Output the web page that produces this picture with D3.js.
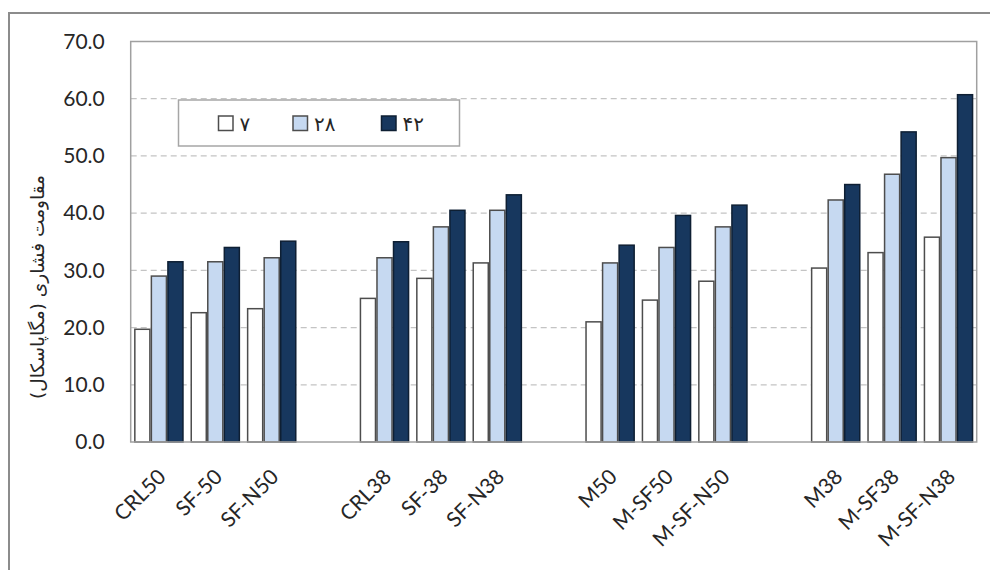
<!DOCTYPE html>
<html>
<head>
<meta charset="utf-8">
<script src="https://cdn.jsdelivr.net/npm/d3@7"></script>
<style>
  html, body { margin: 0; padding: 0; background: #fff; }
  svg { display: block; }
</style>
</head>
<body>
<svg id="chart" width="990" height="570"></svg>
<script>
// Mix designs, in the order they sit along the axis (a gap follows every three)
const categories = ["CRL50", "SF-50", "SF-N50", "CRL38", "SF-38", "SF-N38",
                    "M50", "M-SF50", "M-SF-N50", "M38", "M-SF38", "M-SF-N38"];
const groupSize = 3;

// Curing ages (days) shown in the legend, Persian digits
const seriesNames = ["۷", "۲۸", "۴۲"];

// Compressive strength (MPa) at each age
const day7  = [19.7, 22.6, 23.3, 25.1, 28.6, 31.3, 21.0, 24.8, 28.1, 30.4, 33.1, 35.8];
const day28 = [29.0, 31.5, 32.2, 32.2, 37.6, 40.5, 31.3, 34.0, 37.6, 42.3, 46.8, 49.7];
const day42 = [31.5, 34.0, 35.1, 35.0, 40.5, 43.2, 34.4, 39.6, 41.4, 45.0, 54.2, 60.7];

const yTicks = [0, 10, 20, 30, 40, 50, 60, 70];
const yLabel = "مقاومت فشاری (مگاپاسکال)";

const seriesValues = [day7, day28, day42];
const fills   = ["#ffffff", "#c6d9f1", "#17375e"];
const strokes = ["#4d4d4d", "#4d4d4d", "#0e1f33"];

const svg = d3.select("#chart");
const latin = "Lato, 'Open Sans', sans-serif";
const arabic = "'DejaVu Sans', 'Noto Sans', sans-serif";

// Outer chart frame
svg.append("rect")
  .attr("x", 9).attr("y", 13)
  .attr("width", 1000).attr("height", 600)
  .attr("fill", "none").attr("stroke", "#8c8c8c").attr("stroke-width", 2);

const plot = { left: 130.7, right: 976.7, top: 41.5, bottom: 442 };

// One slot per design plus one empty slot between groups
const slotCount = categories.length + Math.floor((categories.length - 1) / groupSize);
const slotOf = i => i + Math.floor(i / groupSize);

const x = d3.scaleBand()
  .domain(d3.range(slotCount))
  .range([plot.left, plot.right])
  .paddingInner(0).paddingOuter(0);

const xSub = d3.scaleBand()
  .domain(d3.range(seriesNames.length))
  .range([0, x.bandwidth()])
  .paddingInner(0.09).paddingOuter(0.25);

const y = d3.scaleLinear()
  .domain([0, 70])
  .range([plot.bottom, plot.top]);

// Dashed horizontal gridlines
svg.append("g")
  .selectAll("line")
  .data(yTicks.filter(t => t > 0 && t < 70))
  .join("line")
  .attr("x1", plot.left).attr("x2", plot.right)
  .attr("y1", d => y(d)).attr("y2", d => y(d))
  .attr("stroke", "#c4c4c4").attr("stroke-width", 1.2)
  .attr("stroke-dasharray", "6,4");

// Y axis tick labels
const yAxis = d3.axisLeft(y)
  .tickValues(yTicks)
  .tickFormat(d3.format(".1f"))
  .tickSize(0)
  .tickPadding(26);
const yg = svg.append("g")
  .attr("transform", `translate(${plot.left},0)`)
  .call(yAxis);
yg.select(".domain").remove();
yg.selectAll("text")
  .attr("font-family", latin)
  .attr("font-size", 21)
  .attr("fill", "#262626");

// Bars
const bars = svg.append("g");
seriesValues.forEach((vals, s) => {
  bars.append("g")
    .selectAll("rect")
    .data(vals)
    .join("rect")
    .attr("x", (d, i) => x(slotOf(i)) + xSub(s))
    .attr("width", xSub.bandwidth())
    .attr("y", d => y(d))
    .attr("height", d => y(0) - y(d))
    .attr("fill", fills[s])
    .attr("stroke", strokes[s])
    .attr("stroke-width", 1.5);
});

// Plot area border
svg.append("rect")
  .attr("x", plot.left).attr("y", plot.top)
  .attr("width", plot.right - plot.left)
  .attr("height", plot.bottom - plot.top)
  .attr("fill", "none").attr("stroke", "#a0a0a0").attr("stroke-width", 1.5);

// Category labels, rotated
svg.append("g")
  .selectAll("text")
  .data(categories)
  .join("text")
  .attr("transform", (d, i) =>
    `translate(${x(slotOf(i)) + x.bandwidth() / 2 + 3},${plot.bottom + 31}) rotate(-45)`)
  .attr("text-anchor", "end")
  .attr("dy", "0.35em")
  .attr("font-family", latin)
  .attr("font-size", 21)
  .attr("fill", "#262626")
  .text(d => d);

// Y axis title
svg.append("text")
  .attr("transform", "translate(44,287) rotate(-90)")
  .attr("text-anchor", "middle")
  .attr("direction", "rtl")
  .attr("font-family", arabic)
  .attr("font-size", 18.5)
  .attr("fill", "#262626")
  .text(yLabel);

// Legend
const legend = svg.append("g");
legend.append("rect")
  .attr("x", 178.5).attr("y", 100)
  .attr("width", 281).attr("height", 46)
  .attr("fill", "#fff").attr("stroke", "#a6a6a6").attr("stroke-width", 1.5);

const legendX = [218.5, 293, 381.5];
seriesNames.forEach((name, s) => {
  legend.append("rect")
    .attr("x", legendX[s]).attr("y", 116)
    .attr("width", 14.5).attr("height", 14.5)
    .attr("fill", fills[s]).attr("stroke", strokes[s]).attr("stroke-width", 1.5);
  legend.append("text")
    .attr("x", legendX[s] + 21)
    .attr("y", 123.5)
    .attr("dy", "0.35em")
    .attr("font-family", arabic)
    .attr("font-size", 20)
    .attr("fill", "#262626")
    .text(name);
});
</script>
</body>
</html>
